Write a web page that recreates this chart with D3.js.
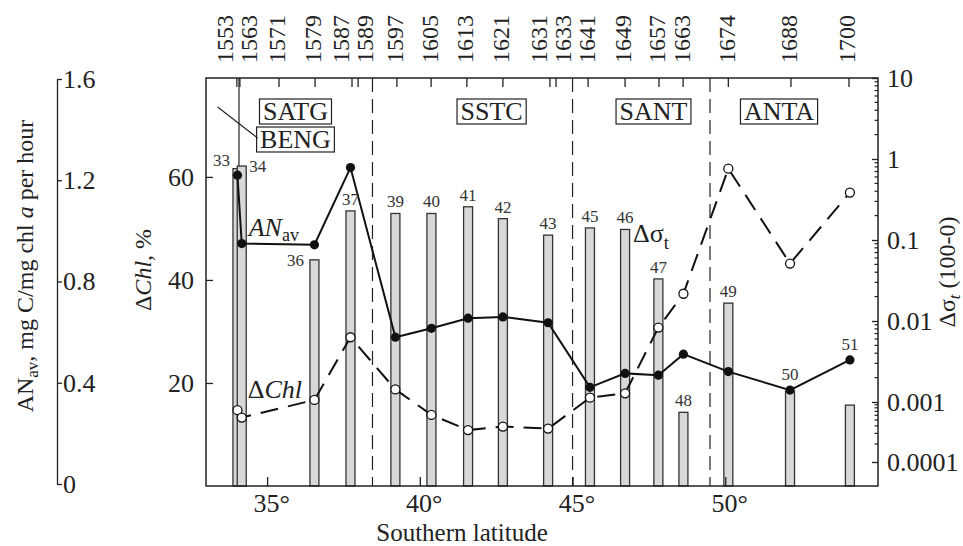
<!DOCTYPE html>
<html>
<head>
<meta charset="utf-8">
<script src="https://cdn.jsdelivr.net/npm/d3@7"></script>
<style>
body { margin: 0; background: #fff; }
svg { display: block; }
text { font-family: "Liberation Serif", "Times New Roman", serif; fill: #222; }
</style>
</head>
<body>
<svg id="chart" width="963" height="546"></svg>
<script>
// stations with bars, numbered as in the figure
var stations = [33, 34, 36, 37, 39, 40, 41, 42, 43, 45, 46, 47, 48, 49, 50, 51];
var latitude = [34.03, 34.17, 36.55, 37.73, 39.2, 40.38, 41.58, 42.72, 44.2, 45.57, 46.72, 47.81, 48.63, 50.1, 52.12, 54.08];
var deltaChl = [61.6, 62.1, 43.9, 53.4, 52.9, 52.9, 54.2, 51.9, 48.7, 50.1, 49.8, 40.2, 14.3, 35.5, 18.4, 15.7];
var anAv = [1.22, 0.95, 0.945, 1.25, 0.58, 0.615, 0.655, 0.66, 0.637, 0.382, 0.437, 0.43, 0.513, 0.444, 0.371, 0.49];
var deltaSigma = [0.00073, 0.00055, 0.00106, 0.0063, 0.00143, 0.00061, 0.00034, 0.00039, 0.00036, 0.00113, 0.00128, 0.0083, 0.0217, 0.76, 0.0512, 0.385];

// cruise station codes on the top axis
var cruiseCodes = ["1553", "1563", "1571", "1579", "1587", "1589", "1597", "1605", "1613", "1621", "1631", "1633", "1641", "1649", "1657", "1663", "1674", "1688", "1700"];
var cruiseLat = [34.01, 34.11, 35.39, 36.57, 37.78, 37.98, 39.25, 40.37, 41.54, 42.72, 44.26, 44.46, 45.51, 46.72, 47.83, 48.62, 50.1, 52.15, 54.05];

// fronts and water zones
var fronts = [38.45, 45.0, 49.5];
var bengFront = 34.08;
var regions = ["SATG", "SSTC", "SANT", "ANTA"];
var regionLat = [35.93, 42.35, 47.65, 51.76];

var latTicks = [35, 40, 45, 50];
var chlTicks = [20, 40, 60];
var anTicks = [0, 0.4, 0.8, 1.2, 1.6];
var sigmaTicks = [0.0001, 0.001, 0.01, 0.1, 1, 10];

var pL = 206, pR = 878, pT = 78, pB = 486;

var svg = d3.select("#chart");

var x = d3.scaleLinear().domain([33, 55]).range([pL, pR]);
var yChl = d3.scaleLinear().domain([0, 79.2]).range([pB, pT]);
var yAN = d3.scaleLinear().domain([0, 1.6]).range([484, 79]);
// the lowest decade is drawn compressed in the original
var ySig = d3.scaleLog().domain([0.0001, 0.001, 10]).range([462, 402, pT]);

var data = stations.map(function(s, i)
{
	return {
		"st": s,
		"lat": latitude[i],
		"chl": deltaChl[i],
		"an": anAv[i],
		"sig": deltaSigma[i]
	};
});

// fronts
svg.selectAll(".front")
	.data(fronts)
	.enter().append("line")
	.attr("class", "front")
	.attr("x1", function(d) { return x(d); })
	.attr("x2", function(d) { return x(d); })
	.attr("y1", pT)
	.attr("y2", pB)
	.attr("stroke", "#222")
	.attr("stroke-width", 1.2)
	.attr("stroke-dasharray", "14,7");

// bars
var barW = 9;
svg.selectAll(".bar")
	.data(data)
	.enter().append("rect")
	.attr("class", "bar")
	.attr("x", function(d) { return x(d.lat) - barW / 2; })
	.attr("width", barW)
	.attr("y", function(d) { return yChl(d.chl); })
	.attr("height", function(d) { return pB - yChl(d.chl); })
	.attr("fill", "#d8d8d8")
	.attr("stroke", "#333")
	.attr("stroke-width", 1.3);

// BENG / SATG boundary
svg.append("line")
	.attr("x1", x(bengFront)).attr("x2", x(bengFront))
	.attr("y1", pT).attr("y2", yChl(62.1))
	.attr("stroke", "#222").attr("stroke-width", 1.2);

// delta sigma line
var sigLine = d3.line()
	.x(function(d) { return x(d.lat); })
	.y(function(d) { return ySig(d.sig); });

svg.append("path")
	.datum(data)
	.attr("d", sigLine)
	.attr("fill", "none")
	.attr("stroke", "#111")
	.attr("stroke-width", 2)
	.attr("stroke-dasharray", "18,10");

// AN line
var anLine = d3.line()
	.x(function(d) { return x(d.lat); })
	.y(function(d) { return yAN(d.an); });

svg.append("path")
	.datum(data)
	.attr("d", anLine)
	.attr("fill", "none")
	.attr("stroke", "#111")
	.attr("stroke-width", 2);

svg.selectAll(".sig")
	.data(data)
	.enter().append("circle")
	.attr("class", "sig")
	.attr("cx", function(d) { return x(d.lat); })
	.attr("cy", function(d) { return ySig(d.sig); })
	.attr("r", 4.5)
	.attr("fill", "#fff")
	.attr("stroke", "#111")
	.attr("stroke-width", 1.3);

svg.selectAll(".an")
	.data(data)
	.enter().append("circle")
	.attr("class", "an")
	.attr("cx", function(d) { return x(d.lat); })
	.attr("cy", function(d) { return yAN(d.an); })
	.attr("r", 4.6)
	.attr("fill", "#111");

// station numbers
var side = { 33: "left", 34: "right", 36: "left", 50: "point", 51: "point" };
svg.selectAll(".stlab")
	.data(data)
	.enter().append("text")
	.attr("class", "stlab")
	.style("font-size", "17px")
	.style("fill", "#333")
	.attr("text-anchor", function(d)
	{
		return side[d.st] === "left" ? "end" : side[d.st] === "right" ? "start" : "middle";
	})
	.attr("x", function(d)
	{
		if (side[d.st] === "left") return x(d.lat) - barW / 2 - (d.st === 36 ? 6 : 3);
		if (side[d.st] === "right") return x(d.lat) + barW / 2 + 3;
		return x(d.lat);
	})
	.attr("y", function(d)
	{
		if (side[d.st] === "point") return yAN(d.an) - 10;
		if (d.st === 33) return yChl(d.chl) - 3;
		if (side[d.st]) return yChl(d.chl) + 6;
		return yChl(d.chl) - 6;
	})
	.text(function(d) { return d.st; });

// zone labels in boxes
function boxLabel(name, cx, base)
{
	var t = svg.append("text")
		.attr("x", cx).attr("y", base)
		.attr("text-anchor", "middle")
		.style("font-size", "26px")
		.text(name);
	var w = t.node().getComputedTextLength();
	svg.insert("rect", "text")
		.attr("x", cx - w / 2 - 3.5).attr("y", base - 21)
		.attr("width", w + 7).attr("height", 25)
		.attr("fill", "#fff")
		.attr("stroke", "#222").attr("stroke-width", 1.2);
	return cx - w / 2 - 3.5;
}

regions.forEach(function(r, i)
{
	boxLabel(r, x(regionLat[i]), 120);
});
var bengLeft = boxLabel("BENG", x(regionLat[0]), 148);

svg.append("line")
	.attr("x1", bengLeft - 39).attr("y1", 107)
	.attr("x2", bengLeft + 1).attr("y2", 138)
	.attr("stroke", "#222").attr("stroke-width", 1.2);

// series names
var p34 = data[1], p46 = data[10];
var anLab = svg.append("text")
	.attr("x", x(p34.lat) + 7).attr("y", yAN(p34.an) - 8)
	.style("font-size", "26px");
anLab.append("tspan").style("font-style", "italic").text("AN");
anLab.append("tspan").attr("dy", 5).style("font-size", "18px").text("av");

var chlLab = svg.append("text")
	.attr("x", x(p34.lat) + 6).attr("y", ySig(p34.sig) - 20)
	.style("font-size", "26px");
chlLab.append("tspan").text("Δ");
chlLab.append("tspan").style("font-style", "italic").text("Chl");

var sigLab = svg.append("text")
	.attr("x", x(p46.lat) + 8).attr("y", yChl(p46.chl) + 13)
	.style("font-size", "26px");
sigLab.append("tspan").text("Δσ");
sigLab.append("tspan").attr("dy", 7).style("font-size", "19px").text("t");

// frame
svg.append("rect")
	.attr("x", pL).attr("y", pT)
	.attr("width", pR - pL).attr("height", pB - pT)
	.attr("fill", "none")
	.attr("stroke", "#222").attr("stroke-width", 1.5);

// axes
function styleAxis(g)
{
	g.attr("font-family", null);
	g.select(".domain").remove();
	g.selectAll("line").attr("stroke", "#222").attr("stroke-width", 1.3);
	g.selectAll("text").style("font-size", "26px").attr("fill", null);
}

svg.append("g")
	.attr("transform", "translate(0," + pB + ")")
	.call(d3.axisBottom(x).tickValues(latTicks).tickSize(-9).tickPadding(8)
		.tickFormat(function(d) { return d + "°"; }))
	.call(styleAxis)
	.selectAll("text").attr("dx", 4);

svg.append("g")
	.attr("transform", "translate(" + pL + ",0)")
	.call(d3.axisLeft(yChl).tickValues(chlTicks).tickSize(-7).tickPadding(12))
	.call(styleAxis);

svg.append("g")
	.attr("transform", "translate(" + pR + ",0)")
	.call(d3.axisRight(ySig).tickValues(sigmaTicks).tickSize(-6).tickPadding(9)
		.tickFormat(function(d) { return String(+d.toPrecision(1)); }))
	.call(styleAxis);

// minor log ticks
var minor = [];
for (var k = -4; k <= 0; k++)
	for (var m = 2; m <= 9; m++)
		minor.push(m * Math.pow(10, k));
svg.selectAll(".minor")
	.data(minor)
	.enter().append("line")
	.attr("x1", pR - 3.5).attr("x2", pR)
	.attr("y1", function(d) { return ySig(d); })
	.attr("y2", function(d) { return ySig(d); })
	.attr("stroke", "#222").attr("stroke-width", 1.2);

// separate AN axis
var anAxis = svg.append("g")
	.attr("transform", "translate(57,0)")
	.call(d3.axisRight(yAN).tickValues(anTicks).tickSize(5).tickPadding(1).tickSizeOuter(0)
		.tickFormat(function(d) { return d === 0 ? "0" : d3.format(".1f")(d); }));
anAxis.attr("font-family", null);
anAxis.select(".domain").attr("stroke", "#222").attr("stroke-width", 1.3);
anAxis.selectAll("line").attr("stroke", "#222").attr("stroke-width", 1.3);
anAxis.selectAll("text").style("font-size", "26px").attr("fill", null);

// top axis: cruise station codes
svg.selectAll(".ttick")
	.data(cruiseLat)
	.enter().append("line")
	.attr("x1", function(d) { return x(d); })
	.attr("x2", function(d) { return x(d); })
	.attr("y1", pT).attr("y2", pT + 9)
	.attr("stroke", "#222").attr("stroke-width", 1.3);

function spread(xs, gap)
{
	var p = xs.slice();
	for (var it = 0; it < 300; it++)
	{
		var moved = false;
		for (var i = 1; i < p.length; i++)
		{
			var d = p[i] - p[i - 1];
			if (d < gap - 0.01)
			{
				var s = (gap - d) / 2;
				p[i - 1] -= s;
				p[i] += s;
				moved = true;
			}
		}
		if (!moved) break;
	}
	return p;
}

var labX = spread(cruiseLat.map(function(d) { return x(d) - 2; }), 24);
svg.selectAll(".tlab")
	.data(cruiseCodes)
	.enter().append("text")
	.attr("class", "tlab")
	.attr("transform", function(d, i) { return "translate(" + labX[i] + ",63) rotate(-90)"; })
	.attr("dy", "0.35em")
	.style("font-size", "24px")
	.text(function(d) { return d; });

// axis titles
var t1 = svg.append("text")
	.attr("transform", "translate(33,266) rotate(-90)")
	.attr("text-anchor", "middle")
	.style("font-size", "24px");
t1.append("tspan").text("AN");
t1.append("tspan").attr("dy", 5).style("font-size", "17px").text("av");
t1.append("tspan").attr("dy", -5).text(", mg C/mg chl ");
t1.append("tspan").style("font-style", "italic").text("a");
t1.append("tspan").text(" per hour");

var t2 = svg.append("text")
	.attr("transform", "translate(151,270) rotate(-90)")
	.attr("text-anchor", "middle")
	.style("font-size", "24px");
t2.append("tspan").text("Δ");
t2.append("tspan").style("font-style", "italic").text("Chl");
t2.append("tspan").text(", %");

var t3 = svg.append("text")
	.attr("transform", "translate(955,272) rotate(-90)")
	.attr("text-anchor", "middle")
	.style("font-size", "24px");
t3.append("tspan").text("Δσ");
t3.append("tspan").attr("dy", 5).style("font-size", "17px").style("font-style", "italic").text("t");
t3.append("tspan").attr("dy", -5).text(" (100-0)");

svg.append("text")
	.attr("x", 462).attr("y", 540.5)
	.attr("text-anchor", "middle")
	.style("font-size", "25px")
	.text("Southern latitude");
</script>
</body>
</html>
